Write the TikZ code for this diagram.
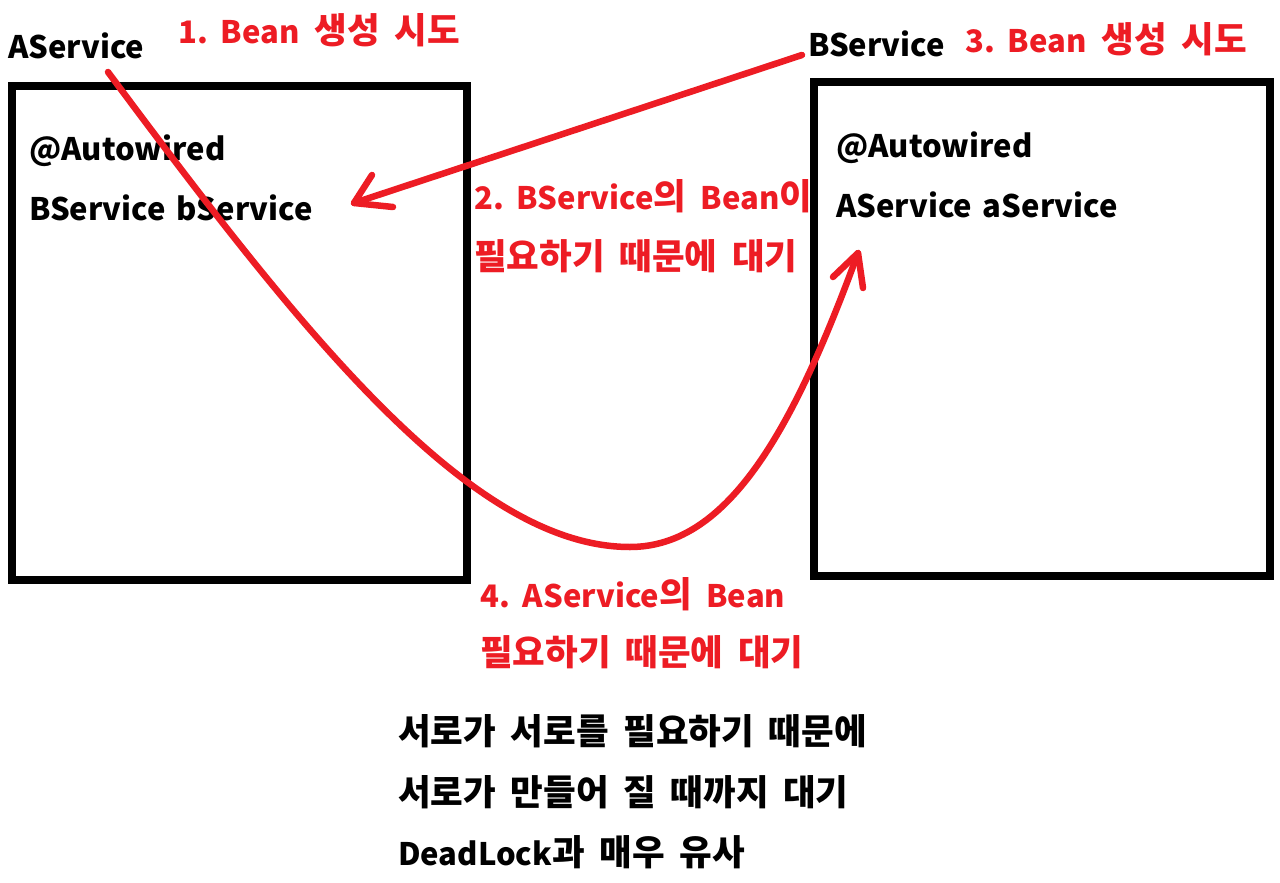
\documentclass[tikz,border=0pt]{standalone}
\usepackage{fontspec}
\setmainfont{Noto Sans CJK KR}[WordSpace=1.8]
\newfontfamily\latinfam{Noto Sans CJK KR}[WordSpace=1.5]
\newcommand\lt[1]{{\fontsize{31}{36}\selectfont\latinfam #1}}
\definecolor{pred}{HTML}{ED1C24}
\tikzset{
  lbl/.style={anchor=base west, inner sep=0pt, font=\fontsize{35.5}{40}\selectfont\bfseries},
  blk/.style={lbl, text=black},
  rd/.style={lbl, text=pred},
  boxline/.style={draw=black, line width=8pt},
  arr/.style={draw=pred, line width=6.5pt, line cap=round, line join=round},
}
\begin{document}
\begin{tikzpicture}[x=1pt,y=-1pt]
\useasboundingbox[fill=white] (0,0) rectangle (1280,883);
% boxes
\node[boxline, minimum width=455pt, minimum height=494pt, inner sep=0pt, anchor=north west] (boxA) at (8,82) {};
\node[boxline, minimum width=456pt, minimum height=494pt, inner sep=0pt, anchor=north west] (boxB) at (810,78) {};
% labels
\node[blk] (aserv) at (8,59) {\lt{AService}};
\node[rd] (s1) at (178,44) {\lt{1. Bean} 생성 시도};
\node[blk] (bserv) at (808,57) {\lt{BService}};
\node[rd] (s3) at (965,53) {\lt{3. Bean} 생성 시도};
\node[blk] (aw1) at (29,160) {\lt{@Autowired}};
\node[blk] (bfield) at (29,220) {\lt{BService bService}};
\node[blk] (aw2) at (836,157) {\lt{@Autowired}};
\node[blk] (afield) at (836,217) {\lt{AService aService}};
\node[rd] (s2a) at (474,209) {\lt{2. BService}의 \lt{Bean}이};
\node[rd] (s2b) at (474,269) {필요하기 때문에 대기};
\node[rd] (s4a) at (480,607) {\lt{4. AService}의 \lt{Bean}};
\node[rd] (s4b) at (480,665) {필요하기 때문에 대기};
\node[blk] (n1) at (398,744) {서로가 서로를 필요하기 때문에};
\node[blk] (n2) at (398,805) {서로가 만들어 질 때까지 대기};
\node[blk] (n3) at (398,865) {\lt{DeadLock}과 매우 유사};
% arrow 1 : BService -> bService
\coordinate (b0) at (802,55);
\coordinate (t1) at (354,203);
\coordinate (h1a) at (372,175);
\coordinate (h1b) at (393,207);
\draw[arr] (b0) -- (t1);
\draw[arr] (h1a) -- (t1) -- (h1b);
% arrow 2 : AService -> aService
\coordinate (c0) at (108,72);
\coordinate (c5) at (630,547);
\coordinate (t2) at (858,253);
\coordinate (h2a) at (833,277);
\coordinate (h2b) at (863,288);
\draw[arr] (c0) .. controls (300,330) and (470,547) .. (c5)
              .. controls (730,547) and (795,425) .. (t2);
\draw[arr] (h2a) -- (t2) -- (h2b);
\end{tikzpicture}
\end{document}
